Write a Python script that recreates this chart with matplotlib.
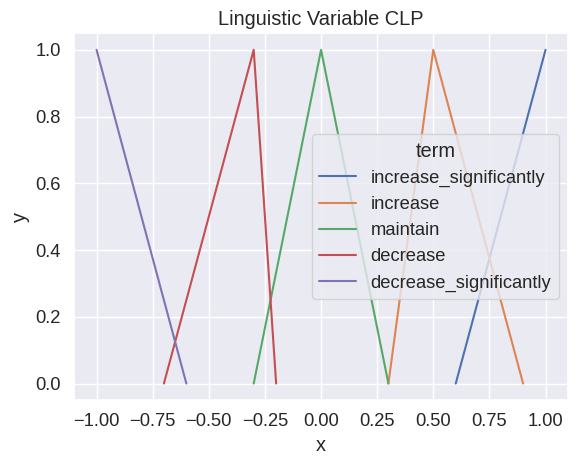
import matplotlib
matplotlib.use("Agg")
import matplotlib.pyplot as plt
from matplotlib.ticker import MultipleLocator, FuncFormatter
import seaborn as sns

sns.set_theme(style="darkgrid", font_scale=1.2)
plt.rcParams["font.family"] = ["Liberation Sans", "DejaVu Sans"]

terms = ["increase_significantly", "increase", "maintain", "decrease", "decrease_significantly"]
xs = [
    [0.6, 1.0],
    [0.3, 0.5, 0.9],
    [-0.3, 0.0, 0.3],
    [-0.7, -0.3, -0.2],
    [-1.0, -0.6],
]
ys = [
    [0.0, 1.0],
    [0.0, 1.0, 0.0],
    [0.0, 1.0, 0.0],
    [0.0, 1.0, 0.0],
    [1.0, 0.0],
]

fig, ax = plt.subplots(figsize=(5.79, 4.67), dpi=100)
for term, x, y in zip(terms, xs, ys):
    ax.plot(x, y, label=term)

# 0.25 steps, with a real minus sign like the default formatter
ax.xaxis.set_major_locator(MultipleLocator(0.25))
ax.xaxis.set_major_formatter(FuncFormatter(lambda v, p: f"{v:.2f}".replace("-", "\u2212")))
ax.set_title("Linguistic Variable CLP")
ax.set_xlabel("x")
ax.set_ylabel("y")
ax.legend(title="term", loc="center right")
fig.subplots_adjust(left=0.128, right=0.981, top=0.929, bottom=0.143)
fig.savefig("out.png")
